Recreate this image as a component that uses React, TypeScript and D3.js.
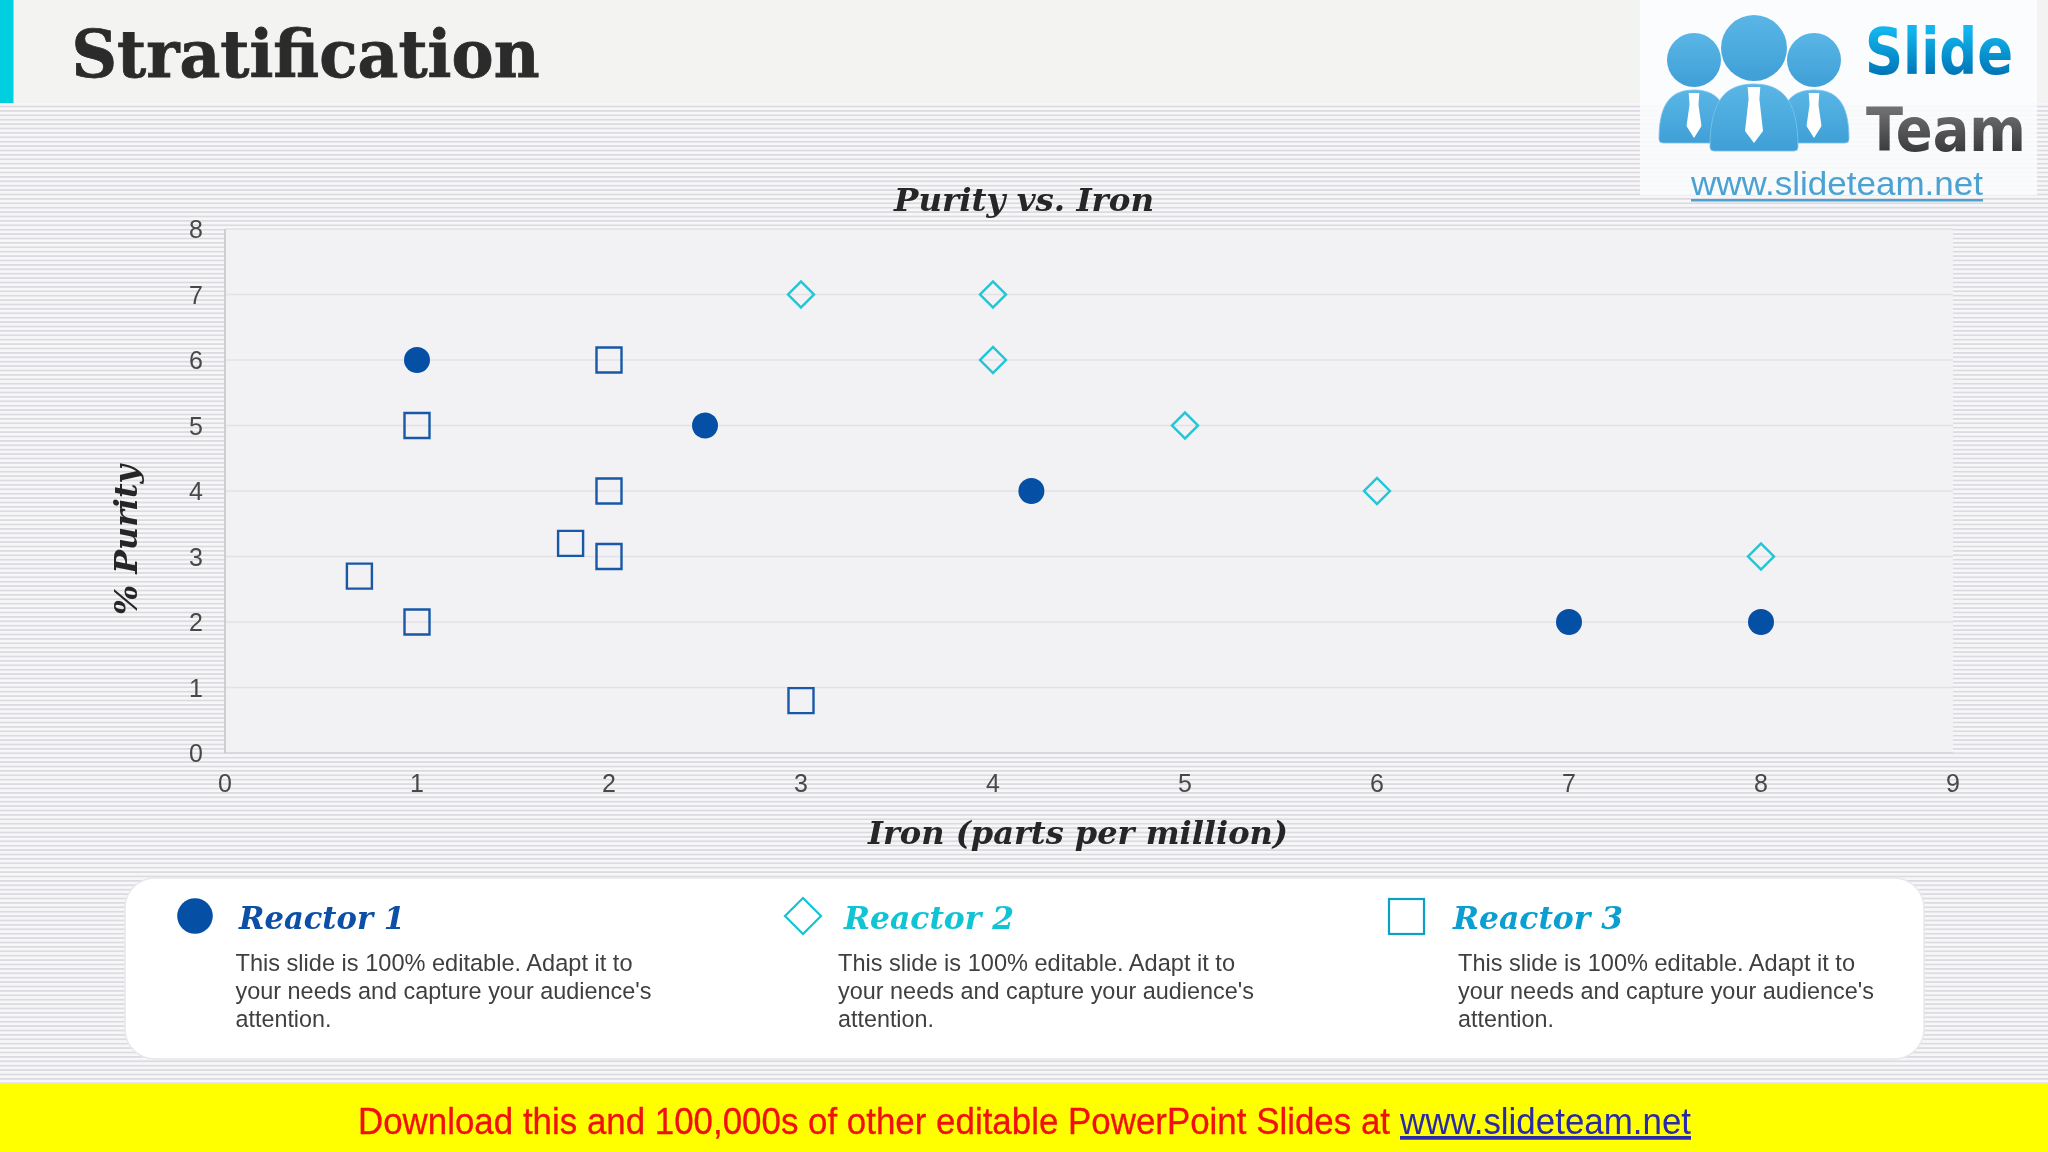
import * as d3 from "d3";

const reactor1 = [[1, 6], [2.5, 5], [4.2, 4], [7, 2], [8, 2]];
const reactor2 = [[3, 7], [4, 7], [4, 6], [5, 5], [6, 4], [8, 3]];
const reactor3 = [[0.7, 2.7], [1, 5], [1, 2], [1.8, 3.2], [2, 6], [2, 4], [2, 3], [3, 0.8]];
const xTicks = [0, 1, 2, 3, 4, 5, 6, 7, 8, 9];
const yTicks = [0, 1, 2, 3, 4, 5, 6, 7, 8];
const legendNames = ["Reactor 1", "Reactor 2", "Reactor 3"];
const bodyLines = [
  "This slide is 100% editable. Adapt it to",
  "your needs and capture your audience's",
  "attention.",
];

const W = 2048;
const H = 1152;
const plot = { l: 225, r: 1953, t: 229, b: 753 };
const sans = "'Liberation Sans', Arial, sans-serif";
const serif = "'DejaVu Serif', serif";
const logoFont = "'DejaVu Sans', sans-serif";

const x = d3.scaleLinear().domain([0, 9]).range([plot.l, plot.r]);
const y = d3.scaleLinear().domain([0, 8]).range([plot.b, plot.t]);

const circle = d3.symbol(d3.symbolCircle, Math.PI * 13 * 13)();
const square = d3.symbol(d3.symbolSquare, 25 * 25)();
const diamond = d3.symbol(d3.symbolSquare, 18.4 * 18.4)();

function Person({ cx, cy, r, hw, by0, by1, tieTop, tieBot, tieW }: any) {
  const h = by1 - by0;
  return (
    <g>
      <circle cx={cx} cy={cy} r={r} fill="url(#logoBlue)" />
      <path
        d={`M${cx - hw},${by1 - 4} C${cx - hw},${by0 + h * 0.22} ${cx - hw * 0.62},${by0} ${cx},${by0} C${cx + hw * 0.62},${by0} ${cx + hw},${by0 + h * 0.22} ${cx + hw},${by1 - 4} Q${cx + hw},${by1} ${cx + hw - 4},${by1} H${cx - hw + 4} Q${cx - hw},${by1} ${cx - hw},${by1 - 4} Z`}
        fill="url(#logoBlue)"
        stroke="#7cc4ea"
        strokeWidth={0.8}
      />
      <path
        d={`M${cx - tieW * 0.7},${tieTop} H${cx + tieW * 0.7} L${cx + tieW * 0.6},${tieTop + 12} L${cx + tieW},${tieBot - 12} L${cx},${tieBot} L${cx - tieW},${tieBot - 12} L${cx - tieW * 0.6},${tieTop + 12} Z`}
        fill="#fff"
      />
    </g>
  );
}

export default function App() {
  return (
    <svg
      width={W}
      height={H}
      viewBox={`0 0 ${W} ${H}`}
      style={{ position: "fixed", left: 0, top: 0, display: "block" }}
    >
      <defs>
        <pattern id="stripes" width={8} height={4.4} patternUnits="userSpaceOnUse">
          <rect width={8} height={4.4} fill="#f7f7f8" />
          <rect width={8} height={1.7} fill="#dcdae0" />
        </pattern>
        <linearGradient id="logoBlue" x1="0" y1="0" x2="0" y2="1">
          <stop offset="0" stopColor="#5ab6e6" />
          <stop offset="1" stopColor="#3f9fd6" />
        </linearGradient>
        <linearGradient id="slideGrad" x1="0" y1="0" x2="0" y2="1">
          <stop offset="0.2" stopColor="#12b6ee" />
          <stop offset="0.8" stopColor="#0076b6" />
        </linearGradient>
        <linearGradient id="teamGrad" x1="0" y1="0" x2="0" y2="1">
          <stop offset="0.2" stopColor="#707072" />
          <stop offset="0.8" stopColor="#3c3c3e" />
        </linearGradient>
      </defs>

      <rect width={W} height={H} fill="url(#stripes)" />

      {/* header */}
      <rect width={W} height={103} fill="#f3f3f1" />
      <rect width={13.5} height={103} fill="#00cfe0" />
      <text
        x={71.5}
        y={77}
        fontFamily={serif}
        fontWeight={700}
        fontSize={66}
        fill="#2b2b2b"
        stroke="#2b2b2b"
        strokeWidth={0.8}
        textLength={468}
        lengthAdjust="spacingAndGlyphs"
      >
        Stratification
      </text>

      {/* logo */}
      <rect x={1640} y={0} width={397} height={103} fill="#fbfcfd" />
      <rect x={1640} y={103} width={397} height={92} fill="#fbfcfd" opacity={0.88} />
      <Person cx={1694} cy={60} r={27} hw={35} by0={90} by1={143} tieTop={93} tieBot={138} tieW={7.5} />
      <Person cx={1814} cy={60} r={27} hw={35} by0={90} by1={143} tieTop={93} tieBot={138} tieW={7.5} />
      <Person cx={1754} cy={48} r={33} hw={44} by0={84} by1={151} tieTop={87} tieBot={143} tieW={9} />
      <text x={1865} y={74} fontFamily={logoFont} fontWeight={700} fontSize={64} fill="url(#slideGrad)" textLength={148} lengthAdjust="spacingAndGlyphs">
        Slide
      </text>
      <text x={1866} y={151} fontFamily={logoFont} fontWeight={700} fontSize={60} fill="url(#teamGrad)" textLength={160} lengthAdjust="spacingAndGlyphs">
        Team
      </text>
      <text x={1691} y={195} fontFamily={sans} fontSize={34} fill="#4aa2d2" textLength={292} lengthAdjust="spacingAndGlyphs">
        www.slideteam.net
      </text>
      <rect x={1691} y={199} width={292} height={2.5} fill="#4aa2d2" />

      {/* chart */}
      <rect x={plot.l} y={plot.t} width={plot.r - plot.l} height={plot.b - plot.t} fill="#f2f2f4" />
      {yTicks.map((t) => (
        <line
          key={t}
          x1={plot.l}
          x2={plot.r}
          y1={y(t)}
          y2={y(t)}
          stroke={t === 0 ? "#d8d8dc" : "#e2e2e6"}
          strokeWidth={t === 0 ? 2 : 1.6}
        />
      ))}
      <line x1={plot.l} x2={plot.l} y1={plot.t} y2={plot.b} stroke="#c6c6ca" strokeWidth={1.6} />
      {yTicks.map((t) => (
        <text key={t} x={203} y={y(t) + 9} textAnchor="end" fontFamily={sans} fontSize={25} fill="#484848">
          {t}
        </text>
      ))}
      {xTicks.map((t) => (
        <text key={t} x={x(t)} y={792} textAnchor="middle" fontFamily={sans} fontSize={25} fill="#484848">
          {t}
        </text>
      ))}

      <text x={894} y={211} fontFamily={serif} fontWeight={700} fontStyle="italic" fontSize={32} fill="#262626" textLength={260} lengthAdjust="spacingAndGlyphs">
        Purity vs. Iron
      </text>
      <text x={868} y={844} fontFamily={serif} fontWeight={700} fontStyle="italic" fontSize={32} fill="#262626" textLength={420} lengthAdjust="spacingAndGlyphs">
        Iron (parts per million)
      </text>
      <text
        transform="translate(137,615) rotate(-90)"
        fontFamily={serif}
        fontWeight={700}
        fontStyle="italic"
        fontSize={32}
        fill="#262626"
        textLength={150}
        lengthAdjust="spacingAndGlyphs"
      >
        % Purity
      </text>

      {reactor1.map(([a, b], i) => (
        <path key={i} d={circle!} transform={`translate(${x(a)},${y(b)})`} fill="#0550a5" />
      ))}
      {reactor2.map(([a, b], i) => (
        <path
          key={i}
          d={diamond!}
          transform={`translate(${x(a)},${y(b)}) rotate(45)`}
          fill="none"
          stroke="#22c6d6"
          strokeWidth={2.4}
        />
      ))}
      {reactor3.map(([a, b], i) => (
        <path
          key={i}
          d={square!}
          transform={`translate(${x(a)},${y(b)})`}
          fill="none"
          stroke="#1858a6"
          strokeWidth={2.4}
        />
      ))}

      {/* legend */}
      <rect x={125} y={878} width={1799} height={181} rx={30} fill="#fff" stroke="#e8e8ec" strokeWidth={1.5} />
      <circle cx={195} cy={916} r={17.8} fill="#0550a5" />
      <path d="M803,898 L821,916 L803,934 L785,916 Z" fill="none" stroke="#12c4d4" strokeWidth={2.2} />
      <rect x={1389} y={899} width={35} height={35} fill="none" stroke="#0c9fc8" strokeWidth={2.2} />
      {legendNames.map((name, i) => (
        <text
          key={name}
          x={[239, 844, 1453][i]}
          y={929}
          fontFamily={serif}
          fontWeight={700}
          fontStyle="italic"
          fontSize={32}
          fill={["#0b4fa6", "#10c4d4", "#0a9fd0"][i]}
          textLength={[166, 170, 170][i]}
          lengthAdjust="spacingAndGlyphs"
        >
          {name}
        </text>
      ))}
      {[235.5, 838, 1458].map((bx) =>
        bodyLines.map((line, j) => (
          <text
            key={bx + line}
            x={bx}
            y={971 + j * 28}
            fontFamily={sans}
            fontSize={24.5}
            fill="#3f3f3f"
            textLength={[397, 416, 96][j]}
            lengthAdjust="spacingAndGlyphs"
          >
            {line}
          </text>
        ))
      )}

      {/* footer */}
      <rect x={0} y={1083} width={W} height={69} fill="#ffff00" />
      <text
        x={358}
        y={1134}
        fontFamily={sans}
        fontSize={37}
        fill="#f01010"
        stroke="#f01010"
        strokeWidth={0.3}
        textLength={1032}
        lengthAdjust="spacingAndGlyphs"
      >
        Download this and 100,000s of other editable PowerPoint Slides at
      </text>
      <text
        x={1400}
        y={1134}
        fontFamily={sans}
        fontSize={37}
        fill="#2a2aa8"
        textDecoration="underline"
        textLength={291}
        lengthAdjust="spacingAndGlyphs"
      >
        www.slideteam.net
      </text>
    </svg>
  );
}
